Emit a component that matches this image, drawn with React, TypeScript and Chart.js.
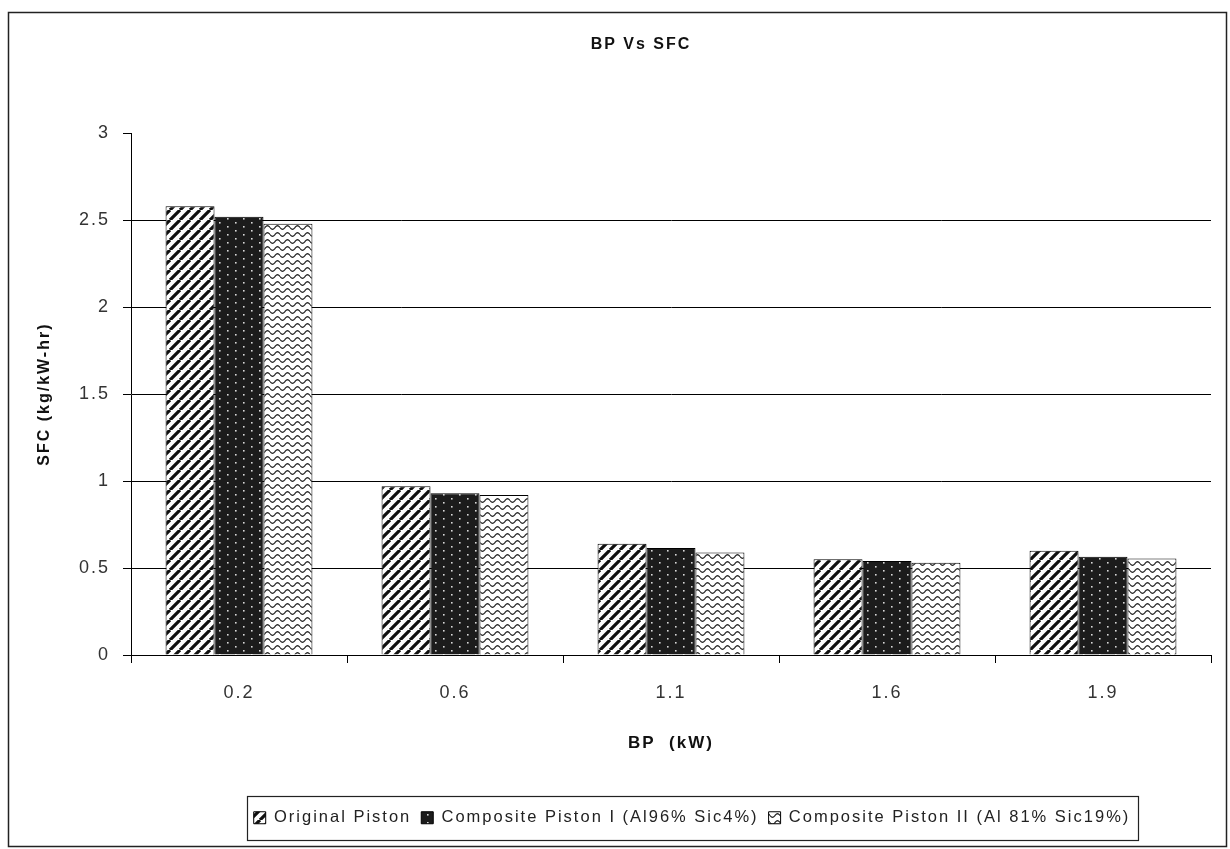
import React, { useEffect, useRef } from 'react';
import { Chart, registerables } from 'chart.js';

Chart.register(...registerables);

// ---- data ----
const categories: string[] = ['0.2', '0.6', '1.1', '1.6', '1.9'];
const originalPiston: number[] = [2.58, 0.97, 0.64, 0.55, 0.6];
const compositePistonI: number[] = [2.52, 0.93, 0.615, 0.54, 0.565];
const compositePistonII: number[] = [2.48, 0.92, 0.59, 0.53, 0.555];
const seriesNames: string[] = [
  'Original Piston',
  'Composite Piston I (Al96% Sic4%)',
  'Composite Piston II (Al 81% Sic19%)',
];
const yTickLabels: string[] = ['0', '0.5', '1', '1.5', '2', '2.5', '3'];
const yMin = 0;
const yMax = 3;
const yStep = 0.5;

const FONT = '"Liberation Sans", Arial, sans-serif';
const LEGEND_FONT_SIZE = 16.5;
const LEGEND_PAD = 10;

function makeHatch(): CanvasPattern | string {
  const s = 10;
  const c = document.createElement('canvas');
  c.width = s;
  c.height = s;
  const g = c.getContext('2d');
  if (!g) return '#fff';
  g.fillStyle = '#ffffff';
  g.fillRect(0, 0, s, s);
  g.strokeStyle = '#111';
  g.lineWidth = 3.2;
  g.beginPath();
  for (let k = -1; k <= 1; k++) {
    g.moveTo(k * s, s);
    g.lineTo(k * s + s, 0);
  }
  g.stroke();
  return g.createPattern(c, 'repeat') || '#fff';
}

function makeDots(): CanvasPattern | string {
  const w = 16;
  const h = 8;
  const c = document.createElement('canvas');
  c.width = w;
  c.height = h;
  const g = c.getContext('2d');
  if (!g) return '#222';
  g.fillStyle = '#1c1c1c';
  g.fillRect(0, 0, w, h);
  g.fillStyle = '#d8d8d8';
  g.fillRect(3, 2, 1.6, 1.6);
  g.fillRect(11, 6, 1.6, 1.6);
  return g.createPattern(c, 'repeat') || '#222';
}

function makeWave(): CanvasPattern | string {
  const w = 10;
  const h = 7;
  const c = document.createElement('canvas');
  c.width = w;
  c.height = h;
  const g = c.getContext('2d');
  if (!g) return '#fff';
  g.fillStyle = '#ffffff';
  g.fillRect(0, 0, w, h);
  g.strokeStyle = '#222';
  g.lineWidth = 1.2;
  g.beginPath();
  for (let x = 0; x <= w; x += 0.5) {
    const y = 3.5 + 1.8 * Math.sin((x / w) * Math.PI * 2);
    if (x === 0) g.moveTo(x, y);
    else g.lineTo(x, y);
  }
  g.stroke();
  return g.createPattern(c, 'repeat') || '#fff';
}

const framePlugin = {
  id: 'framePlugin',
  beforeUpdate(chart: any) {
    chart.ctx.letterSpacing = '2px';
  },
  afterLayout(chart: any) {
    const t = chart.titleBlock;
    if (t) {
      t.left -= 30;
      t.right -= 30;
    }
    const l = chart.legend;
    if (l) {
      l.left += 21;
      l.right += 21;
    }
  },
  beforeDraw(chart: any) {
    chart.ctx.letterSpacing = '2px';
  },
  afterDraw(chart: any) {
    const ctx = chart.ctx as CanvasRenderingContext2D;
    ctx.save();
    ctx.strokeStyle = '#222';
    ctx.lineWidth = 1.5;
    ctx.strokeRect(8.5, 12.5, 1218, 834);
    const legend = chart.legend;
    if (legend && legend.legendHitBoxes && legend.legendHitBoxes.length) {
      const hb = legend.legendHitBoxes;
      let left = Infinity;
      let right = -Infinity;
      for (const b of hb) {
        left = Math.min(left, b.left);
        right = Math.max(right, b.left + b.width);
      }
      const center = legend.top + LEGEND_PAD + LEGEND_FONT_SIZE / 2;
      ctx.lineWidth = 1.2;
      ctx.strokeRect(
        Math.round(left - 7) + 0.5,
        Math.round(center - 22) + 0.5,
        Math.round(right - left + 14),
        44
      );
    }
    ctx.restore();
  },
};

export default function App() {
  const ref = useRef<HTMLCanvasElement | null>(null);

  useEffect(() => {
    if (!ref.current) return;
    const hatch = makeHatch();
    const dots = makeDots();
    const wave = makeWave();
    const tickFont = { family: FONT, size: 18 };
    const chart = new Chart(ref.current, {
      type: 'bar',
      data: {
        labels: categories,
        datasets: [
          { label: seriesNames[0], data: originalPiston, backgroundColor: hatch as any, borderColor: '#000', borderWidth: 1 },
          { label: seriesNames[1], data: compositePistonI, backgroundColor: dots as any, borderColor: '#000', borderWidth: 1 },
          { label: seriesNames[2], data: compositePistonII, backgroundColor: wave as any, borderColor: '#000', borderWidth: 1 },
        ],
      },
      options: {
        responsive: false,
        animation: false,
        devicePixelRatio: 1,
        layout: { padding: { left: 0, right: 19, top: 0, bottom: 13 } },
        datasets: { bar: { categoryPercentage: 0.68, barPercentage: 1.0 } },
        plugins: {
          title: {
            display: true,
            text: 'BP Vs SFC',
            fullSize: false,
            color: '#111',
            font: { family: FONT, size: 16, weight: 'bold' },
            padding: { top: 35, bottom: 79 },
          },
          legend: {
            position: 'bottom',
            fullSize: false,
            labels: {
              boxWidth: 12,
              boxHeight: 12,
              padding: LEGEND_PAD,
              color: '#222',
              font: { family: FONT, size: LEGEND_FONT_SIZE },
            },
          },
          tooltip: { enabled: false },
        },
        scales: {
          x: {
            grid: { offset: true, drawOnChartArea: false, color: '#000', tickColor: '#000', tickLength: 8 },
            border: { display: true, color: '#000', width: 1 },
            ticks: { padding: 19, color: '#333', font: tickFont },
            title: {
              display: true,
              text: 'BP  (kW)',
              color: '#111',
              font: { family: FONT, size: 17, weight: 'bold' },
              padding: { top: 0, bottom: 46 },
            },
            afterFit: (s: any) => {
              s.height = 144.5;
            },
          },
          y: {
            min: yMin,
            max: yMax,
            ticks: {
              stepSize: yStep,
              padding: 13,
              color: '#333',
              font: tickFont,
              callback: (_v: any, i: number) => yTickLabels[i],
            },
            grid: {
              color: (c: any) => (c.tick && c.tick.value === yMax ? 'rgba(0,0,0,0)' : '#000'),
              tickColor: '#000',
              tickLength: 8,
              lineWidth: 1,
            },
            border: { display: true, color: '#000', width: 1 },
            title: {
              display: true,
              text: 'SFC (kg/kW-hr)',
              color: '#111',
              font: { family: FONT, size: 16, weight: 'bold' },
              padding: { top: 35, bottom: 0 },
            },
            afterFit: (s: any) => {
              s.width = 131;
            },
          },
        },
      },
      plugins: [framePlugin],
    });
    return () => chart.destroy();
  }, []);

  return (
    <div style={{ position: 'absolute', left: 0, top: 0, width: 1230, height: 849, background: '#fff' }}>
      <canvas ref={ref} width={1230} height={849} style={{ display: 'block', width: 1230, height: 849 }} />
    </div>
  );
}
